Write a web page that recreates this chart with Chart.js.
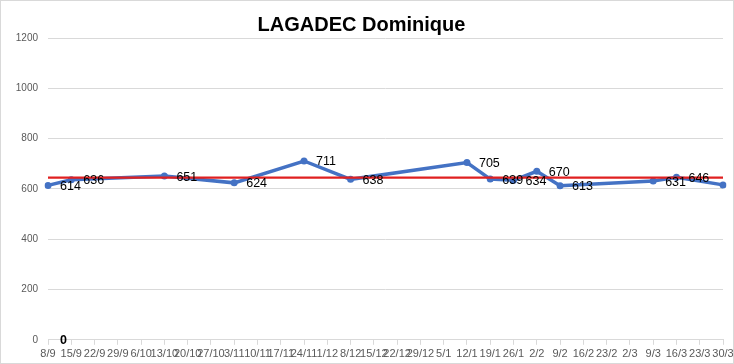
<!DOCTYPE html>
<html lang="fr">
<head>
    <meta charset="UTF-8">
    <title>LAGADEC Dominique</title>
    <script src="https://cdn.jsdelivr.net/npm/chart.js"></script>
    <style>
        html, body { margin: 0; padding: 0; background: #fff; }
        canvas { display: block; }
    </style>
</head>
<body>
    <canvas id="chart" width="734" height="364"></canvas>

    <script>
        // weekly axis labels
        const weekLabels = ['8/9', '15/9', '22/9', '29/9', '6/10', '13/10', '20/10', '27/10', '3/11', '10/11',
            '17/11', '24/11', '1/12', '8/12', '15/12', '22/12', '29/12', '5/1', '12/1', '19/1',
            '26/1', '2/2', '9/2', '16/2', '23/2', '2/3', '9/3', '16/3', '23/3', '30/3'];

        // measured values
        const dates = ['8/9', '15/9', '13/10', '3/11', '24/11', '8/12', '12/1', '19/1', '26/1', '2/2', '9/2', '9/3', '16/3', '30/3'];
        const values = [614, 636, 651, 624, 711, 638, 705, 639, 634, 670, 613, 631, 646, 616];

        // extra series shown as bold "0"
        const zeroDates = ['8/9'];
        const zeroValues = [0];

        // mean line
        const meanValue = 645;

        const yTicks = [0, 200, 400, 600, 800, 1000, 1200];

        // labels to the right of the points
        const pointLabels = {
            id: 'pointLabels',
            afterDatasetsDraw(chart) {
                const ctx = chart.ctx;
                ctx.save();
                ctx.textAlign = 'left';
                ctx.textBaseline = 'middle';
                ctx.fillStyle = '#000';
                chart.data.datasets.forEach((ds, i) => {
                    if (!ds.showLabels) return;
                    ctx.font = ds.labelFont;
                    chart.getDatasetMeta(i).data.forEach((pt, j) => {
                        ctx.fillText(String(ds.data[j].y), pt.x + 12, pt.y + 1);
                    });
                });
                ctx.restore();
            }
        };

        const frame = {
            id: 'frame',
            afterDraw(chart) {
                const ctx = chart.ctx;
                ctx.save();
                ctx.strokeStyle = '#d9d9d9';
                ctx.lineWidth = 1;
                ctx.strokeRect(0.5, 0.5, chart.width - 1, chart.height - 1);
                ctx.restore();
            }
        };

        const ctx = document.getElementById('chart').getContext('2d');
        const chart = new Chart(ctx, {
            type: 'line',
            data: {
                labels: weekLabels,
                datasets: [
                    {
                        label: 'LAGADEC Dominique',
                        data: dates.map((d, i) => ({ x: d, y: values[i] })),
                        borderColor: '#4472C4',
                        backgroundColor: '#4472C4',
                        borderWidth: 3.5,
                        pointRadius: 3.5,
                        pointBorderWidth: 0,
                        pointHoverRadius: 3.5,
                        tension: 0,
                        showLabels: true,
                        labelFont: '12.5px "Liberation Sans", Arial, sans-serif',
                        order: 2
                    },
                    {
                        label: 'zero',
                        data: zeroDates.map((d, i) => ({ x: d, y: zeroValues[i] })),
                        borderColor: 'transparent',
                        backgroundColor: 'transparent',
                        pointRadius: 0,
                        showLabels: true,
                        labelFont: 'bold 12.5px "Liberation Sans", Arial, sans-serif',
                        order: 3
                    },
                    {
                        label: 'Moyenne',
                        data: [{ x: weekLabels[0], y: meanValue }, { x: weekLabels[weekLabels.length - 1], y: meanValue }],
                        borderColor: '#E02020',
                        borderWidth: 2.2,
                        pointRadius: 0,
                        tension: 0,
                        order: 1
                    }
                ]
            },
            options: {
                responsive: false,
                animation: false,
                layout: { padding: { left: 0, right: 11, top: 0, bottom: 0 } },
                plugins: {
                    legend: { display: false },
                    tooltip: { enabled: false },
                    title: {
                        display: true,
                        text: 'LAGADEC Dominique',
                        color: '#000',
                        font: { family: '"Liberation Sans", Arial, sans-serif', size: 20, weight: 'bold' },
                        padding: { top: 13, bottom: 1 }
                    }
                },
                scales: {
                    x: {
                        type: 'category',
                        offset: false,
                        afterFit(scale) { scale.paddingLeft = 0; scale.paddingRight = 0; },
                        grid: { drawOnChartArea: false, drawTicks: true, tickLength: 5, color: '#d9d9d9' },
                        border: { color: '#d9d9d9' },
                        ticks: {
                            autoSkip: false,
                            maxRotation: 0,
                            minRotation: 0,
                            padding: 3,
                            color: '#595959',
                            font: { family: '"Liberation Sans", Arial, sans-serif', size: 11 }
                        }
                    },
                    y: {
                        min: yTicks[0],
                        max: yTicks[yTicks.length - 1],
                        afterFit(scale) { scale.width = 48; },
                        afterBuildTicks(scale) { scale.ticks = yTicks.map(v => ({ value: v })); },
                        grid: { drawTicks: false, color: '#d9d9d9' },
                        border: { display: false },
                        ticks: {
                            padding: 10,
                            color: '#595959',
                            font: { family: '"Liberation Sans", Arial, sans-serif', size: 10 },
                            callback: v => String(v)
                        }
                    }
                }
            },
            plugins: [pointLabels, frame]
        });
    </script>
</body>
</html>
